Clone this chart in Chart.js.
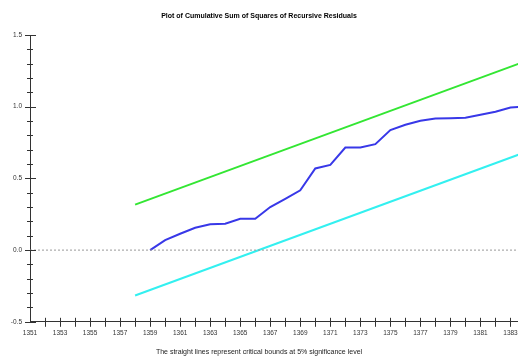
<!DOCTYPE html>
<html>
<head>
<meta charset="utf-8">
<script src="https://cdn.jsdelivr.net/npm/chart.js@4"></script>
<style>
  html, body { margin: 0; padding: 0; background: #fff; }
  #wrap { width: 518px; height: 358px; }
</style>
</head>
<body>
<div id="wrap"><canvas id="cusumsq"></canvas></div>
<script>
// values
var years = [1359,1360,1361,1362,1363,1364,1365,1366,1367,1368,1369,1370,1371,1372,
             1373,1374,1375,1376,1377,1378,1379,1380,1381,1382,1383,1384];
var cusumsq = [0.00,0.07,0.114,0.156,0.18,0.184,0.219,0.219,0.30,0.357,0.417,0.569,0.594,0.715,
               0.715,0.739,0.837,0.874,0.902,0.918,0.92,0.923,0.944,0.965,0.995,1.00];
var boundYears = [1358, 1384];
var upperBound = [0.317, 1.317];
var lowerBound = [-0.317, 0.683];
var zeroYears = [1351, 1384];
var zeroLine = [0, 0];
var xFirstYear = 1351, xLastYear = 1383;
var yLabels = [-0.5, 0.0, 0.5, 1.0, 1.5];

function pairs(xs, ys) {
    return xs.map(function(x, i) { return {x: x, y: ys[i]}; });
}

var fontFamily = "'Liberation Sans', Arial, sans-serif";

// little tick marks that cross the axis lines, like the original
var crossTicks = {
    id: 'crossTicks',
    afterDraw: function(chart) {
        var ctx = chart.ctx;
        var xs = chart.scales.x, ys = chart.scales.y;
        var ax = xs.getPixelForValue(xFirstYear);
        var ay = ys.getPixelForValue(-0.5);
        ctx.save();
        ctx.strokeStyle = '#333';
        ctx.lineWidth = 1;
        ctx.beginPath();
        ys.ticks.forEach(function(t) {
            var py = Math.round(ys.getPixelForValue(t.value)) + 0.5;
            var major = Math.round(t.value * 10) % 5 === 0;
            ctx.moveTo(ax - (major ? 5 : 3), py);
            ctx.lineTo(ax + (major ? 6 : 3), py);
        });
        xs.ticks.forEach(function(t) {
            if (t.value === xFirstYear) return;
            var px = Math.round(xs.getPixelForValue(t.value)) + 0.5;
            ctx.moveTo(px, ay - 4);
            ctx.lineTo(px, ay + 5);
        });
        ctx.stroke();
        ctx.restore();
    }
};

new Chart(document.getElementById('cusumsq'), {
    type: 'line',
    data: {
        datasets: [{
            data: pairs(zeroYears, zeroLine),
            borderColor: '#999',
            borderWidth: 1,
            borderDash: [2, 2],
            pointRadius: 0
        }, {
            data: pairs(boundYears, upperBound),
            borderColor: '#33e633',
            borderWidth: 2,
            pointRadius: 0
        }, {
            data: pairs(boundYears, lowerBound),
            borderColor: '#33f0f0',
            borderWidth: 2,
            pointRadius: 0
        }, {
            data: pairs(years, cusumsq),
            borderColor: '#3838e8',
            borderWidth: 2,
            pointRadius: 0
        }]
    },
    options: {
        responsive: true,
        maintainAspectRatio: false,
        animation: false,
        layout: { padding: 0 },
        plugins: {
            legend: { display: false },
            tooltip: { enabled: false },
            title: {
                display: true,
                text: 'Plot of Cumulative Sum of Squares of Recursive Residuals',
                color: '#000',
                font: { family: fontFamily, size: 7, weight: 'bold' },
                padding: { top: 12, bottom: 14.6 }
            },
            subtitle: {
                display: true,
                position: 'bottom',
                text: 'The straight lines represent critical bounds at 5% significance level',
                color: '#222',
                font: { family: fontFamily, size: 7 },
                padding: { top: 2, bottom: 2 }
            }
        },
        scales: {
            x: {
                type: 'linear',
                min: xFirstYear,
                max: 1383.5,
                grid: { display: false, drawTicks: false },
                border: { display: true, color: '#333', width: 1 },
                afterBuildTicks: function(s) {
                    var t = [];
                    for (var y = xFirstYear; y <= xLastYear; y++) t.push({ value: y });
                    s.ticks = t;
                },
                ticks: {
                    autoSkip: false,
                    maxRotation: 0,
                    padding: 8,
                    color: '#333',
                    font: { family: fontFamily, size: 6.5 },
                    callback: function(v) {
                        return (v % 2 === 1) ? String(v) : '';
                    }
                },
                afterFit: function(s) { s.paddingRight = 0; }
            },
            y: {
                min: -0.5,
                max: 1.5,
                grid: { display: false, drawTicks: false },
                border: { display: true, color: '#333', width: 1 },
                ticks: {
                    stepSize: 0.1,
                    autoSkip: false,
                    padding: 8,
                    color: '#333',
                    font: { family: fontFamily, size: 6.5 },
                    callback: function(v) {
                        var hit = yLabels.filter(function(l) { return Math.abs(l - v) < 1e-6; });
                        return hit.length ? hit[0].toFixed(1) : '';
                    }
                },
                afterFit: function(s) { s.width = 30; }
            }
        }
    },
    plugins: [crossTicks]
});
</script>
</body>
</html>
